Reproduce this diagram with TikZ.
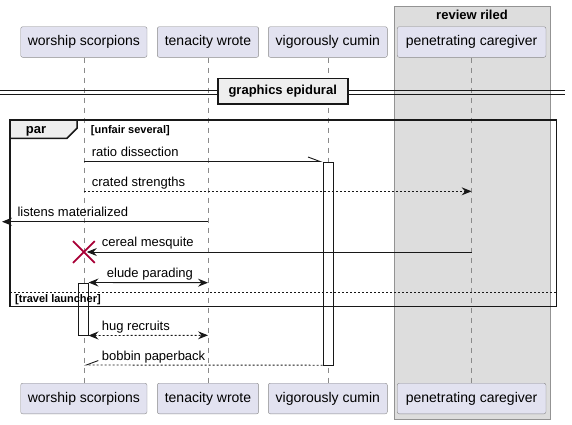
\documentclass[tikz,border=0pt]{standalone}
\usepackage{fontspec}
\setmainfont{Liberation Sans}
\usetikzlibrary{arrows.meta,shapes.misc}
\definecolor{actfill}{HTML}{E2E2F0}
\definecolor{actline}{HTML}{8A8A8A}
\definecolor{grpfill}{HTML}{DDDDDD}
\definecolor{grpline}{HTML}{939393}
\definecolor{tabfill}{HTML}{EEEEEE}
\definecolor{ink}{HTML}{181818}
\definecolor{destroy}{HTML}{A80036}
\tikzset{
  actor/.style={draw=actline, fill=actfill, rounded corners=2pt, minimum height=30.6,
    inner xsep=0pt, font=\fontsize{14}{16}\selectfont, text height=10, text depth=3},
  life/.style={draw=actline, dash pattern=on 5pt off 5pt},
  bar/.style={draw=ink, fill=white, minimum width=10, inner sep=0pt},
  msg/.style={draw=ink, line width=0.9pt},
  reply/.style={msg, dash pattern=on 2pt off 2pt},
  tip/.style={-{Stealth[length=10pt,width=8pt,inset=3.5pt]}},
  tips/.style={{Stealth[length=10pt,width=8pt,inset=3.5pt]}-{Stealth[length=10pt,width=8pt,inset=3.5pt]}},
  half/.style={-{Straight Barb[harpoon,length=12pt,width=9pt]}},
  halfswap/.style={-{Straight Barb[harpoon,swap,length=12pt,width=9pt]}},
  lbl/.style={font=\fontsize{13}{15}\selectfont, anchor=base west, inner sep=0pt},
  guard/.style={font=\bfseries\fontsize{11}{13}\selectfont, anchor=base west, inner sep=0pt},
  frame/.style={draw=ink, line width=1.5pt}
}
\begin{document}
\begin{tikzpicture}[x=1pt, y=-1pt]
  \useasboundingbox (0,0) rectangle (572,424);

  % box round the last participant
  \draw[grpline, fill=grpfill] (394,6) rectangle (550,419);
  \node[font=\bfseries\fontsize{13}{15}\selectfont, anchor=base, inner sep=0pt] (grp) at (472,19.7) {review riled};

  % participants, top and bottom
  \node[actor, minimum width=126.3] (ws) at (83.85,42) {worship scorpions};
  \node[actor, minimum width=101.3] (tw) at (208,42) {tenacity wrote};
  \node[actor, minimum width=119] (vc) at (327.8,42) {vigorously cumin};
  \node[actor, minimum width=148.7] (pc) at (471.6,42) {penetrating caregiver};
  \node[actor, minimum width=126.3] (wsb) at (83.85,398.5) {worship scorpions};
  \node[actor, minimum width=101.3] (twb) at (208,398.5) {tenacity wrote};
  \node[actor, minimum width=119] (vcb) at (327.8,398.5) {vigorously cumin};
  \node[actor, minimum width=148.7] (pcb) at (471.6,398.5) {penetrating caregiver};
  \foreach \n in {ws,tw,vc,pc}
    \draw[life] (\n) -- (\n b);

  % activations
  \node[bar, minimum height=203.3] (vcbar) at (327.7,263.35) {};
  \node[bar, minimum height=52.6] (wsbar) at (83.3,309) {};

  % divider
  \draw[ink] (0,90.5) -- (565,90.5);
  \draw[ink] (0,94.3) -- (565,94.3);
  \node[draw=ink, line width=1.7pt, fill=tabfill, minimum width=130, minimum height=25.7,
    font=\bfseries\fontsize{13}{15}\selectfont] (div) at (282.7,91.2) {graphics epidural};

  % par fragment
  \draw[frame] (10,120) rectangle (556.7,306.7);
  \draw[frame, fill=tabfill] (10,120) -- (77,120) -- (77,128.3) -- (67,138.3) -- (10,138.3) -- cycle;
  \node[font=\bfseries\fontsize{13}{15}\selectfont, anchor=base, inner sep=0pt] (par) at (36,133.5) {par};
  \node[guard] (g1) at (90.7,133.6) {[unfair several]};
  \draw[ink, dash pattern=on 2pt off 2pt] (10,291.7) -- (556.7,291.7);
  \node[guard] (g2) at (15,302.2) {[travel launcher]};

  % rows of the messages
  \foreach \n/\y in {r2/191.3, r3/221.7, r4/252, r5/282.7, r7/335.3, r8/365}
    \coordinate (\n) at (0,\y);
  \coordinate (lost) at (2,221.7);

  % messages
  \draw[msg, half] (ws |- vcbar.north) -- (vcbar.north west);
  \node[lbl] (m1) at (91.7,156) {ratio dissection};
  \draw[reply, tip] (ws |- r2) -- (pc |- r2);
  \node[lbl] (m2) at (91.7,186.5) {crated strengths};
  \draw[msg, tip] (tw |- r3) -- (lost);
  \node[lbl] (m3) at (17.3,216.5) {listens materialized};
  \node[cross out, draw=destroy, line width=1.8pt, minimum size=20, inner sep=0pt] (kill) at (ws |- r4) {};
  \draw[msg, tip, shorten >=3pt] (pc |- r4) -- (kill.center);
  \node[lbl] (m4) at (101.7,246.8) {cereal mesquite};
  \draw[msg, tips] (wsbar.north east) -- (tw |- r5);
  \node[lbl] (m5) at (106.7,277.5) {elude parading};
  \draw[reply, tips] (wsbar.south east) -- (tw |- r7);
  \node[lbl] (m7) at (101.7,330.2) {hug recruits};
  \draw[reply, halfswap] (vcbar.south west) -- (ws |- r8);
  \node[lbl] (m8) at (101.7,360.2) {bobbin paperback};
\end{tikzpicture}
\end{document}
